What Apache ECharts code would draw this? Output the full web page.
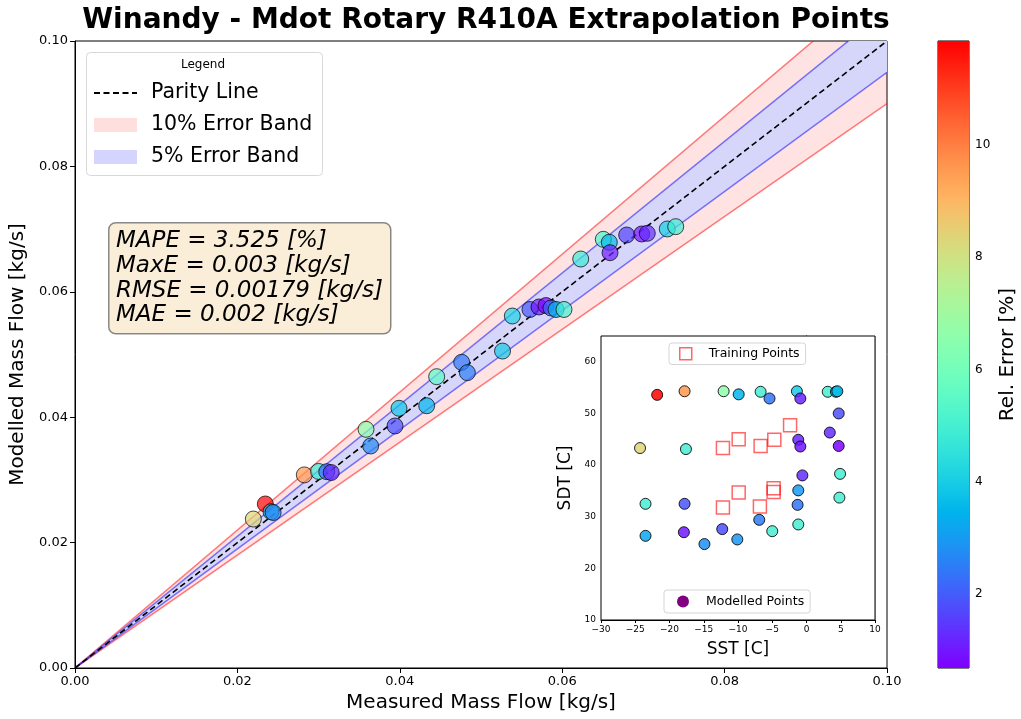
<!DOCTYPE html>
<html>
<head>
<meta charset="utf-8">
<script src="https://cdn.jsdelivr.net/npm/echarts@6.0.0/dist/echarts.min.js"></script>
<style>
  html, body { margin: 0; padding: 0; background: #fff; }
  #chart { width: 1021px; height: 719px; }
</style>
</head>
<body>
<div id="chart"></div>
<script>
// Measured vs. modelled refrigerant mass flow [kg/s] for each extrapolation point
const measuredFlow = [0.02196, 0.02344, 0.02414, 0.02440, 0.02824, 0.03000, 0.03100, 0.03155,
  0.03584, 0.03641, 0.03990, 0.03941, 0.04331, 0.04454, 0.04762, 0.04832, 0.05265, 0.05386,
  0.05603, 0.05714, 0.05800, 0.05862, 0.05924, 0.06022, 0.06228, 0.06506, 0.06580, 0.06589,
  0.06794, 0.06979, 0.07048, 0.07294, 0.07398];
const modelledFlow = [0.02376, 0.02616, 0.02493, 0.02480, 0.03080, 0.03135, 0.03131, 0.03118,
  0.03807, 0.03541, 0.04142, 0.03860, 0.04183, 0.04646, 0.04876, 0.04710, 0.05055, 0.05614,
  0.05718, 0.05758, 0.05781, 0.05742, 0.05718, 0.05718, 0.06523, 0.06837, 0.06790, 0.06624,
  0.06906, 0.06922, 0.06933, 0.07002, 0.07039];
const relErrorMain = [8.3, 11.85, 3.6, 2.6, 9.6, 4.8, 2.2, 1.2,
  6.6, 2.7, 3.8, 1.8, 3.5, 5.5, 2.4, 2.5, 3.9, 4.1,
  1.9, 1.0, 0.68, 2.2, 3.4, 5.0, 4.8, 5.2, 3.6, 1.1,
  1.6, 0.9, 1.3, 4.0, 4.9];

// Operating envelope: saturated suction / discharge temperatures [C]
const sstModelled = [-21.8, -17.8, -12.1, -9.9, -6.7, -5.4, -1.4, -0.9, 3.1, 4.3, 4.5, 4.7, 3.4, 4.7,
  -24.3, -17.6, -1.2, -0.9, -0.6, 4.9, -1.2, 4.8, -23.5, -17.8, -1.3, -6.9, -1.2,
  -23.5, -17.9, -12.3, -14.9, -10.1, -5.0];
const sdtModelled = [53.6, 54.3, 54.3, 53.7, 54.2, 52.9, 54.3, 52.9, 54.2, 54.2, 54.3, 50.0, 46.3, 43.7,
  43.3, 43.1, 44.9, 43.6, 38.0, 38.3, 35.1, 33.7, 32.5, 32.5, 32.3, 29.4, 28.5,
  26.3, 27.0, 27.6, 24.7, 25.6, 27.2];
const relErrorMap = [11.85, 9.6, 6.6, 3.5, 5.0, 2.4, 4.0, 1.2, 5.0, 3.8, 3.6, 1.8, 1.3, 0.7,
  8.3, 5.0, 1.2, 1.0, 1.3, 5.0, 3.0, 5.0, 5.0, 1.9, 2.4, 2.5, 5.0,
  3.2, 1.0, 1.8, 2.8, 2.9, 5.0];
const sstTraining = [-12.2, -9.9, -6.7, -4.7, -2.4, -9.9, -4.8, -4.8, -12.2, -6.8];
const sdtTraining = [43.3, 45.0, 43.7, 44.9, 47.7, 34.7, 35.5, 34.8, 31.8, 32.0];

// Relative error bands around the parity line
const errorBands = [0.10, 0.05];
const flowAxisMax = 0.1;
const errorRange = [0.68, 11.85];
const colorbarTicks = [2, 4, 6, 8, 10];
const statsLines = ['MAPE = 3.525 [%]', 'MaxE = 0.003 [kg/s]', 'RMSE = 0.00179 [kg/s]', 'MAE = 0.002 [kg/s]'];

const FONT = 'DejaVu Sans';

// matplotlib-style "rainbow" colormap
function rainbow(t) {
  const r = Math.min(1, Math.abs(2 * t - 0.5));
  const g = Math.sin(Math.PI * t);
  const b = Math.max(0, Math.cos(Math.PI * t / 2));
  return 'rgb(' + Math.round(r * 255) + ',' + Math.round(g * 255) + ',' + Math.round(b * 255) + ')';
}
const rainbowColors = [];
for (let i = 0; i <= 32; i++) rainbowColors.push(rainbow(i / 32));
const rainbowStops = rainbowColors.map((c, i) => ({ offset: i / 32, color: c }));

function bandRenderer(fill, edge) {
  return function (params, api) {
    const e = api.value(0);
    const xEnd = api.value(1);
    const o = api.coord([0, 0]);
    const hi = api.coord([xEnd, xEnd * (1 + e)]);
    const lo = api.coord([xEnd, xEnd * (1 - e)]);
    return {
      type: 'group',
      children: [
        { type: 'polygon', shape: { points: [o, hi, lo] }, style: { fill: fill } },
        { type: 'polyline', shape: { points: [o, hi] }, style: { stroke: edge, lineWidth: 1.5, fill: null } },
        { type: 'polyline', shape: { points: [o, lo] }, style: { stroke: edge, lineWidth: 1.5, fill: null } }
      ]
    };
  };
}

const mainPoints = measuredFlow.map((m, i) => [m, modelledFlow[i], relErrorMain[i]]);
const mapPoints = sstModelled.map((s, i) => [s, sdtModelled[i], relErrorMap[i]]);
const trainingPoints = sstTraining.map((s, i) => [s, sdtTraining[i]]);

const axisLineBlack = { show: true, lineStyle: { color: '#000', width: 1 } };
const fmt2 = v => v.toFixed(2);
const minusFmt = v => (v < 0 ? '\u2212' + Math.abs(v) : String(v));

const PINK_FILL = 'rgba(255,0,0,0.11)';
const BLUE_FILL = 'rgb(214,214,250)';

const chart = echarts.init(document.getElementById('chart'), null, { renderer: 'canvas' });

chart.setOption({
  animation: false,
  backgroundColor: '#fff',
  textStyle: { fontFamily: FONT },
  title: {
    text: 'Winandy - Mdot Rotary R410A Extrapolation Points',
    left: 481, top: 2, textAlign: 'center',
    textStyle: { fontFamily: FONT, fontWeight: 'bold', fontSize: 28, color: '#000' }
  },
  grid: [
    { left: 75, top: 41, width: 812, height: 627, show: true, borderColor: '#000', borderWidth: 1, backgroundColor: 'transparent' },
    { left: 601, top: 336, width: 274, height: 284, show: true, borderColor: '#000', borderWidth: 1, backgroundColor: '#fff', z: 5 },
    { left: 938, top: 41, width: 31, height: 627, show: true, borderColor: '#000', borderWidth: 1 }
  ],
  xAxis: [
    {
      gridIndex: 0, type: 'value', min: 0, max: flowAxisMax, interval: 0.02,
      axisLine: axisLineBlack, axisTick: { show: true, length: 5, lineStyle: { color: '#000' } },
      axisLabel: { formatter: fmt2, color: '#000', fontSize: 13, margin: 7, fontFamily: FONT },
      splitLine: { show: false },
      name: 'Measured Mass Flow [kg/s]', nameLocation: 'middle', nameGap: 25,
      nameTextStyle: { fontSize: 20, color: '#000', fontFamily: FONT }
    },
    {
      gridIndex: 1, type: 'value', min: -30, max: 10, interval: 5,
      axisLine: axisLineBlack, axisTick: { show: true, length: 3, lineStyle: { color: '#000' } },
      axisLabel: { formatter: minusFmt, color: '#000', fontSize: 9, margin: 5, fontFamily: FONT },
      splitLine: { show: true, lineStyle: { color: '#c8c8c8', width: 1 } },
      name: 'SST [C]', nameLocation: 'middle', nameGap: 21,
      nameTextStyle: { fontSize: 17, color: '#000', fontFamily: FONT }
    },
    { gridIndex: 2, type: 'value', min: 0, max: 1, show: false }
  ],
  yAxis: [
    {
      gridIndex: 0, type: 'value', min: 0, max: flowAxisMax, interval: 0.02,
      axisLine: axisLineBlack, axisTick: { show: true, length: 5, lineStyle: { color: '#000' } },
      axisLabel: { formatter: fmt2, color: '#000', fontSize: 13, margin: 7, fontFamily: FONT },
      splitLine: { show: false },
      name: 'Modelled Mass Flow [kg/s]', nameLocation: 'middle', nameGap: 45,
      nameTextStyle: { fontSize: 20, color: '#000', fontFamily: FONT }
    },
    {
      gridIndex: 1, type: 'value', min: 10, max: 65, interval: 10,
      axisLine: axisLineBlack,
      axisTick: { show: true, length: 3, lineStyle: { color: '#000' }, customValues: [10, 20, 30, 40, 50, 60] },
      axisLabel: { color: '#000', fontSize: 9, margin: 5, fontFamily: FONT, customValues: [10, 20, 30, 40, 50, 60] },
      splitLine: { show: true, lineStyle: { color: '#c8c8c8', width: 1 } },
      name: 'SDT [C]', nameLocation: 'middle', nameGap: 27,
      nameTextStyle: { fontSize: 17, color: '#000', fontFamily: FONT }
    },
    {
      gridIndex: 2, type: 'value', position: 'right', min: errorRange[0], max: errorRange[1],
      axisLine: { show: false },
      axisTick: { show: true, length: 4, lineStyle: { color: '#000' }, customValues: colorbarTicks },
      axisLabel: { color: '#000', fontSize: 12, margin: 6, fontFamily: FONT, customValues: colorbarTicks },
      splitLine: { show: false },
      name: 'Rel. Error [%]', nameLocation: 'middle', nameGap: 29, nameRotate: 90,
      nameTextStyle: { fontSize: 20, color: '#000', fontFamily: FONT }
    }
  ],
  visualMap: {
    type: 'continuous', show: false, min: errorRange[0], max: errorRange[1],
    dimension: 2, seriesIndex: [4, 5], inRange: { color: rainbowColors }
  },
  legend: [
    {
      orient: 'vertical', left: 93, top: 82, padding: 0, itemGap: 10, z: 60,
      itemWidth: 43, itemHeight: 14,
      textStyle: { fontSize: 20.5, color: '#000', fontFamily: FONT, lineHeight: 22, padding: [0, 0, 0, 9] },
      selectedMode: false,
      data: [
        { name: 'Parity Line', itemStyle: { color: 'rgba(0,0,0,0)', borderWidth: 0, opacity: 0 } },
        { name: '10% Error Band', icon: 'rect', itemStyle: { color: 'rgba(255,0,0,0.13)', borderWidth: 0 } },
        { name: '5% Error Band', icon: 'rect', itemStyle: { color: 'rgba(0,0,255,0.17)', borderWidth: 0 } }
      ]
    },
    {
      left: 669, top: 343, padding: [4, 6, 4, 10], itemWidth: 12, itemHeight: 12,
      backgroundColor: 'rgba(255,255,255,0.8)', borderColor: '#d5d5d5', borderWidth: 1, borderRadius: 3,
      textStyle: { fontSize: 12.5, color: '#000', fontFamily: FONT, padding: [0, 0, 0, 12] },
      selectedMode: false, z: 10,
      data: [{ name: 'Training Points', icon: 'rect', itemStyle: { color: 'rgba(0,0,0,0)', borderColor: 'rgba(255,0,0,0.75)', borderWidth: 1.5 } }]
    },
    {
      left: 664, top: 590, padding: [5, 6, 5, 13], itemWidth: 12, itemHeight: 12,
      backgroundColor: 'rgba(255,255,255,0.8)', borderColor: '#d5d5d5', borderWidth: 1, borderRadius: 3,
      textStyle: { fontSize: 12.5, color: '#000', fontFamily: FONT, padding: [0, 0, 0, 12] },
      selectedMode: false, z: 10,
      data: [{ name: 'Modelled Points', icon: 'circle', itemStyle: { color: 'purple', borderWidth: 0, opacity: 1 } }]
    }
  ],
  graphic: [
    {
      type: 'rect', left: 86, top: 52, z: 50, silent: true,
      shape: { width: 236, height: 123, r: 4 },
      style: { fill: 'rgba(255,255,255,0.8)', stroke: '#d8d8d8', lineWidth: 1 }
    },
    {
      type: 'text', x: 203, y: 65, z: 51, silent: true,
      style: { text: 'Legend', font: '12px "DejaVu Sans"', fill: '#000', align: 'center', verticalAlign: 'middle' }
    },
    {
      type: 'rect', left: 108, top: 222, z: 50, silent: true,
      shape: { width: 282, height: 111, r: 7 },
      style: { fill: 'rgba(245,222,179,0.5)', stroke: 'rgba(0,0,0,0.45)', lineWidth: 1.5 }
    },
    {
      type: 'text', x: 116, y: 229, z: 51, silent: true,
      style: {
        text: statsLines.join('\n'), font: 'italic 23px "DejaVu Sans"', fill: '#000',
        lineHeight: 24.7, align: 'left', verticalAlign: 'top'
      }
    }
  ],
  series: [
    {
      name: '10% Error Band', type: 'custom', xAxisIndex: 0, yAxisIndex: 0, clip: true, silent: true, z: 1,
      renderItem: bandRenderer(PINK_FILL, 'rgba(255,0,0,0.5)'),
      data: [[errorBands[0], flowAxisMax]]
    },
    {
      name: '5% Error Band', type: 'custom', xAxisIndex: 0, yAxisIndex: 0, clip: true, silent: true, z: 1,
      renderItem: bandRenderer(BLUE_FILL, 'rgba(0,0,255,0.5)'),
      data: [[errorBands[1], flowAxisMax]]
    },
    {
      name: 'Parity Line', type: 'line', xAxisIndex: 0, yAxisIndex: 0, symbol: 'none', silent: true, z: 2,
      lineStyle: { color: '#000', width: 1.6, type: [6, 3.5] },
      data: [[0, 0], [flowAxisMax, flowAxisMax]]
    },
    {
      name: 'Error Colorbar', type: 'custom', xAxisIndex: 2, yAxisIndex: 2, silent: true,
      renderItem: function (params, api) {
        const tl = api.coord([0, api.value(1)]);
        const br = api.coord([1, api.value(0)]);
        return {
          type: 'rect',
          shape: { x: tl[0], y: tl[1], width: br[0] - tl[0], height: br[1] - tl[1] },
          style: { fill: new echarts.graphic.LinearGradient(0, 1, 0, 0, rainbowStops) }
        };
      },
      data: [[errorRange[0], errorRange[1]]]
    },
    {
      name: 'Extrapolation Points', type: 'scatter', xAxisIndex: 0, yAxisIndex: 0, z: 3,
      symbolSize: 16,
      itemStyle: { opacity: 0.7, borderColor: '#000', borderWidth: 1 },
      data: mainPoints
    },
    {
      name: 'Modelled Points', type: 'scatter', xAxisIndex: 1, yAxisIndex: 1, z: 6,
      symbolSize: 11,
      itemStyle: { opacity: 0.85, borderColor: '#000', borderWidth: 1 },
      data: mapPoints
    },
    {
      name: 'Training Points', type: 'scatter', xAxisIndex: 1, yAxisIndex: 1, z: 7,
      symbol: 'rect', symbolSize: 13,
      itemStyle: { color: 'rgba(0,0,0,0)', borderColor: 'rgba(255,0,0,0.75)', borderWidth: 1.5 },
      data: trainingPoints
    }
  ]
});
</script>
</body>
</html>
